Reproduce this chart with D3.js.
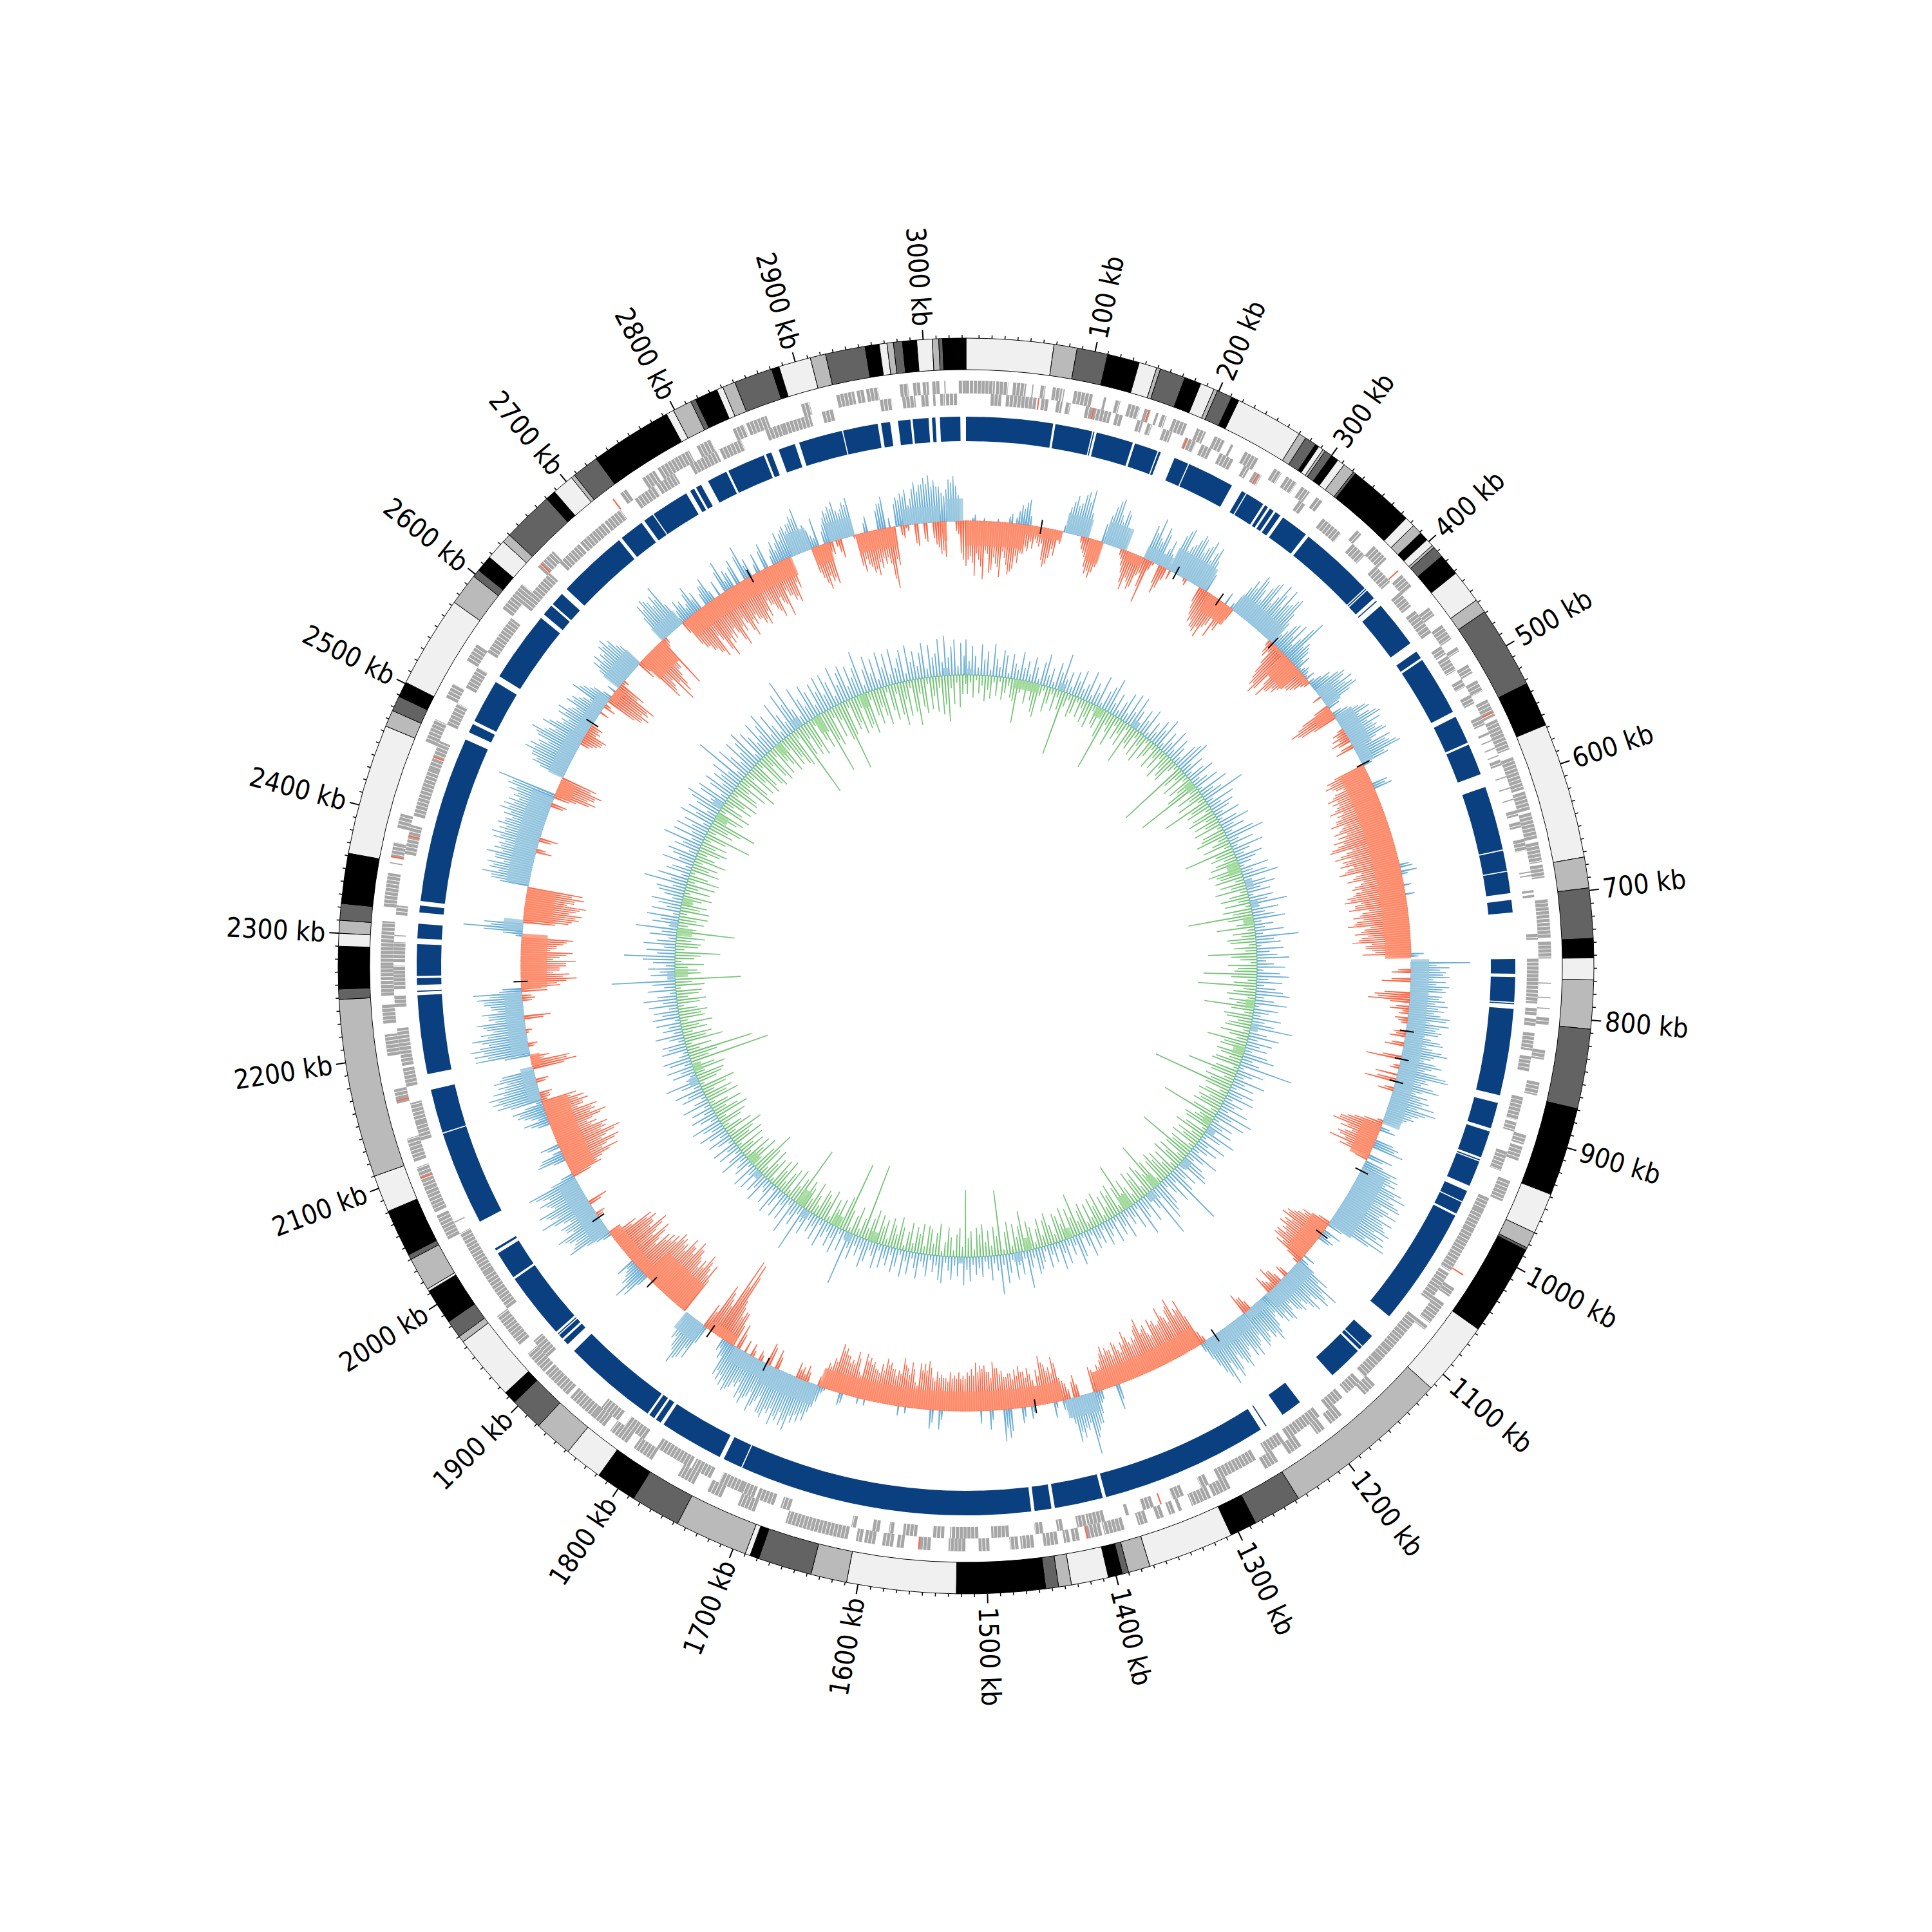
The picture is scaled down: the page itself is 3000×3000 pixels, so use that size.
<!DOCTYPE html>
<html><head><meta charset="utf-8">
<script src="https://cdn.jsdelivr.net/npm/d3@7/dist/d3.min.js"></script>
<style>html,body{margin:0;background:#fff}svg{display:block}</style></head>
<body><div id="c"></div>
<script>
const genomeKb = 3033;
const tickLabels = d3.range(100, 3001, 100);

// outer ring: band end position (kb) and tone
const bandEnds = [68,86,110,135,149,152,172,185,196,199,211,217,270,276,285,288,292,294,300,306,312,321,323,375,383,391,398,404,406,415,432,458,469,533,568,674,698,737,752,769,807,869,938,970,983,985,1056,1114,1247,1285,1306,1373,1390,1395,1406,1435,1445,1455,1524,1609,1637,1679,1686,1690,1747,1786,1818,1848,1878,1904,1914,1965,1970,1984,2012,2014,2040,2044,2081,2110,2249,2257,2290,2300,2310,2323,2362,2464,2477,2489,2501,2573,2598,2604,2617,2633,2640,2680,2688,2705,2708,2729,2793,2799,2814,2818,2836,2841,2851,2881,2887,2912,2924,2955,2966,2972,2977,2984,2995,3007,3012,3015,3027,3033];
const bandTones = "LMDKLMDKLMDKLMDKLMDKLMDKLMKLMDKLMDKLMDKLMDKLMDKLMDKLMDKLMDKLMDKLMDKLMDKLMDKLMDKLMDKLMDKLMDKLMDKLMDKLMDKLMDKLMDKLMDKLMDKLMDK".split("");

// solid blue blocks [start,end] kb
const blocks = [[0,77],[79,112],[113,114],[116,149],[151,172],[173,175],[188,201],[202,244],[254,258],[259,276],[278,281],[283,287],[289,294],[297,322],[325,392],[393,394],[395,404],[407,408],[413,455],[464,471],[473,526],[531,556],[558,586],[598,655],[656,674],[675,694],[700,711],[752,765],[768,790],[791,792],[796,873],[880,903],[906,930],[932,933],[934,957],[962,972],[973,984],[986,1092],[1115,1127],[1128,1131],[1133,1164],[1201,1220],[1237,1238],[1243,1392],[1395,1438],[1441,1456],[1459,1719],[1720,1737],[1741,1798],[1801,1806],[1808,1813],[1815,1900],[1908,1913],[1915,1919],[1920,1921],[1923,1982],[1984,2009],[2012,2014],[2041,2125],[2126,2165],[2179,2249],[2252,2253],[2258,2264],[2266,2294],[2299,2312],[2322,2328],[2332,2480],[2487,2495],[2498,2537],[2543,2606],[2610,2620],[2622,2634],[2640,2703],[2706,2728],[2731,2740],[2741,2775],[2779,2783],[2785,2790],[2797,2815],[2817,2851],[2853,2858],[2865,2880],[2884,2923],[2924,2955],[2958,2966],[2973,2984],[2986,3000],[3003,3006],[3010,3028]];

// gene clusters, forward lane
const genesFwd = [[0,24],[25,35],[39,50],[55,56],[62,66],[72,80],[81,82],[90,106],[115,117],[125,129],[136,146],[150,155],[160,162],[165,169],[175,187],[196,204],[212,221],[227,229],[240,253],[268,275],[280,290],[295,303],[310,316],[353,358],[372,387],[405,418],[440,448],[458,472],[480,484],[497,505],[512,522],[530,545],[548,575],[582,610],[612,628],[630,652],[655,672],[674,685],[703,735],[738,752],[772,773],[784,785],[793,794],[801,807],[828,836],[855,866],[900,908],[910,922],[940,958],[1040,1048],[1055,1075],[1078,1082],[1143,1155],[1180,1192],[1198,1206],[1222,1235],[1245,1258],[1290,1306],[1308,1325],[1334,1337],[1340,1345],[1350,1356],[1364,1372],[1384,1401],[1403,1416],[1422,1428],[1430,1435],[1440,1452],[1460,1471],[1473,1480],[1497,1506],[1517,1531],[1546,1556],[1568,1574],[1577,1586],[1592,1601],[1603,1608],[1615,1668],[1695,1710],[1725,1738],[1750,1765],[1790,1808],[1815,1832],[1838,1850],[1850,1875],[1878,1888],[1888,1904],[1905,1925],[1935,1965],[2040,2062],[2065,2085],[2085,2105],[2110,2130],[2160,2172],[2200,2218],[2227,2243],[2250,2275],[2275,2312],[2324,2352],[2360,2361],[2365,2378],[2390,2402],[2465,2485],[2505,2518],[2540,2556],[2592,2618],[2637,2655],[2728,2734],[2750,2762],[2765,2795],[2802,2815],[2835,2845],[2847,2865],[2895,2902],[2925,2940],[2942,2948],[2950,2960],[2978,2985],[2989,2995],[2997,3002],[3005,3011],[3015,3016],[3027,3033]];
// gene clusters, reverse lane
const genesRev = [[21,30],[34,60],[64,70],[77,82],[85,89],[102,124],[128,134],[147,152],[156,160],[170,178],[190,200],[205,214],[222,235],[245,250],[255,262],[300,306],[325,345],[358,372],[385,403],[415,430],[435,452],[452,458],[472,480],[482,496],[505,512],[520,528],[540,548],[555,557],[562,563],[569,570],[576,577],[580,585],[595,596],[605,606],[615,616],[625,630],[635,640],[650,660],[678,679],[681,682],[694,696],[698,700],[731,736],[752,790],[794,800],[803,809],[815,830],[835,848],[870,890],[892,900],[918,935],[960,972],[972,990],[990,1003],[1003,1030],[1032,1060],[1078,1095],[1095,1113],[1113,1125],[1125,1145],[1150,1165],[1170,1186],[1195,1215],[1215,1228],[1232,1250],[1260,1280],[1280,1296],[1305,1312],[1328,1338],[1355,1365],[1377,1380],[1398,1413],[1414,1422],[1434,1439],[1451,1458],[1480,1495],[1506,1530],[1535,1545],[1558,1570],[1578,1582],[1590,1596],[1610,1614],[1668,1676],[1682,1698],[1700,1712],[1712,1732],[1740,1758],[1760,1792],[1805,1825],[1832,1850],[1912,1930],[1965,2000],[2000,2040],[2050,2051],[2125,2142],[2140,2158],[2172,2188],[2190,2222],[2240,2250],[2255,2275],[2278,2295],[2300,2301],[2318,2326],[2370,2395],[2403,2445],[2445,2470],[2485,2505],[2520,2540],[2555,2590],[2605,2640],[2652,2675],[2676,2702],[2703,2720],[2735,2755],[2757,2775],[2790,2815],[2818,2838],[2860,2875],[2875,2900],[2910,2920],[2960,2970],[2979,2990],[2995,3001],[3005,3007],[3011,3015],[3016,3026]];
// genes drawn in orange: [kb, lane 0 fwd / 1 rev]
const genesRed = [[61,1],[108,1],[153,0],[191,1],[258,1],[400,0],[541,0],[1026,0],[1348,1],[1415,0],[1555,0],[2095,0],[2162,0],[2365,0],[2385,1],[2455,1],[2640,0],[2720,0]];

// skew plateaus [start,end,signed depth]
const skewBands = [[0,65,-38],[65,106,-15],[108,135,30],[137,152,-35],[152,178,35],[180,198,-15],[198,228,20],[228,274,38],[280,310,-30],[310,366,30],[366,384,-5],[384,410,-40],[410,425,-8],[437,458,25],[459,472,-30],[472,512,30],[512,531,20],[532,750,-40],[751,933,28],[935,975,-30],[985,1056,40],[1058,1104,-30],[1108,1160,28],[1166,1190,15],[1192,1243,25],[1248,1372,-30],[1375,1408,30],[1410,1679,-30],[1680,1740,32],[1740,1780,25],[1782,1815,-15],[1820,1845,30],[1848,1905,-50],[1905,1965,-20],[1966,2035,30],[2040,2125,-40],[2128,2165,20],[2165,2178,-15],[2180,2246,28],[2250,2310,-40],[2313,2325,30],[2325,2360,-45],[2363,2462,35],[2465,2483,-25],[2485,2535,25],[2535,2585,20],[2585,2600,-12],[2600,2637,30],[2638,2670,-40],[2670,2700,25],[2702,2838,-30],[2840,2862,35],[2862,2882,-28],[2883,2911,30],[2912,2955,-30],[2965,3005,25],[3007,3012,-30],[3012,3030,35]];
// skew peaks every 5 kb, 20 values per 100 kb
const skewOut = [
0,0,10,0,5,0,0,5,0,0,15,10,30,35,15,0,0,0,0,0,
0,0,40,60,50,70,75,0,0,0,30,60,75,40,55,25,0,0,0,0,
55,70,35,50,30,25,60,75,50,65,70,60,75,60,50,30,0,0,0,0,
20,0,25,60,75,55,65,80,60,70,85,65,80,40,30,50,55,35,75,40,
30,25,10,10,15,10,35,45,50,60,55,45,20,0,25,40,55,50,65,60,
50,55,40,60,55,70,45,0,0,0,0,25,30,0,0,0,0,0,0,0,
0,0,0,0,0,0,0,0,0,0,20,25,0,0,12,0,15,0,0,0,
0,0,0,0,0,0,0,0,0,20,0,92,60,55,60,55,60,55,50,55,
60,55,50,60,65,45,50,40,60,45,70,45,55,50,60,80,50,60,45,55,
60,70,75,50,45,30,20,0,25,0,0,40,50,0,40,0,55,60,60,75,
85,70,85,70,65,85,75,90,85,90,95,40,0,30,0,20,0,0,0,0,
20,15,60,85,70,60,75,55,60,50,45,55,55,30,50,70,60,55,65,50,
70,65,50,75,55,70,65,85,60,30,0,0,0,0,0,0,0,0,0,0,
0,0,0,0,0,0,0,0,0,0,40,0,0,0,20,50,60,95,55,65,
70,30,15,0,25,0,0,0,0,20,0,25,0,0,45,50,0,0,30,0,
20,0,0,0,0,0,0,0,0,30,0,30,0,0,0,0,0,0,15,0,
0,0,0,0,0,0,0,10,0,0,0,20,0,0,0,10,35,60,65,70,
85,80,75,85,70,80,75,60,80,60,75,70,55,60,70,65,60,55,30,20,
0,0,0,0,60,65,80,55,45,0,0,0,0,0,0,0,0,0,0,0,
0,45,55,35,20,30,0,0,0,0,0,0,0,25,70,55,60,75,55,60,
50,84,65,80,55,70,60,80,20,0,0,0,45,35,0,30,0,0,0,0,
20,40,25,45,50,10,70,75,80,70,60,65,50,0,0,0,85,85,90,60,
85,70,60,75,55,65,50,60,70,76,30,0,0,0,0,0,0,0,0,0,
0,0,30,92,60,0,0,0,0,0,0,0,0,60,75,65,70,60,75,65,
60,70,75,65,70,60,65,75,70,65,60,70,75,94,0,0,0,0,55,60,
75,70,60,65,80,55,70,50,45,55,60,40,55,50,35,60,45,30,0,15,
0,55,60,55,65,70,60,40,0,0,0,0,0,0,0,65,70,60,65,76,
10,35,30,20,45,30,0,30,40,0,25,0,50,30,0,40,0,55,30,0,
30,0,40,0,25,20,45,40,50,50,60,70,40,20,45,0,30,50,55,60,
40,55,60,0,0,25,0,0,40,50,15,0,45,50,55,40,65,60,70,73,
65,55,40,65,70,40,0];
const skewIn = [
70,55,85,60,90,50,75,65,85,55,80,70,60,45,40,35,25,25,60,45,
40,20,0,0,0,0,20,30,55,60,40,0,0,0,0,15,35,60,45,50,
25,70,5,0,45,20,15,0,0,0,10,0,0,0,35,55,60,65,70,45,
60,45,20,0,0,0,0,0,0,0,0,0,0,20,15,50,70,80,40,75,
60,55,40,35,25,10,0,0,0,15,0,0,50,75,60,0,0,0,20,25,
30,0,30,0,0,0,0,65,70,55,60,75,70,65,80,70,75,85,70,85,
80,90,85,100,75,95,85,90,80,95,70,85,65,80,75,90,95,80,90,70,
85,80,95,70,85,75,90,70,60,75,0,0,0,30,0,45,0,0,55,65,
0,30,15,20,10,0,20,25,0,30,0,0,55,0,15,0,0,50,0,25,
0,0,0,0,0,0,10,45,65,75,60,50,55,70,50,20,0,0,0,0,
0,0,0,0,0,0,0,0,0,0,0,20,45,50,65,70,60,65,55,60,
60,50,10,0,0,0,20,0,25,35,15,30,0,0,0,0,0,25,35,0,
0,0,0,0,0,0,0,0,0,20,80,70,90,75,65,85,60,70,75,55,
65,85,70,60,55,75,60,50,65,55,60,65,45,40,30,40,0,0,0,35,
0,25,35,70,55,60,75,55,40,60,55,65,60,55,50,60,65,75,60,70,
70,75,65,60,55,60,55,60,50,55,60,50,75,70,70,40,70,60,75,55,
55,65,70,60,50,60,65,70,40,70,55,60,70,75,50,40,15,0,0,25,
20,25,0,0,0,0,30,0,35,0,15,0,20,0,0,25,0,55,45,70,
130,134,60,80,40,0,0,0,0,0,85,75,95,80,75,90,100,85,95,80,
85,90,80,75,70,55,80,60,85,65,75,70,45,20,0,0,0,0,15,0,
0,32,0,0,0,0,0,0,50,55,85,70,93,75,100,80,85,70,65,90,
75,80,60,70,65,55,15,20,0,0,20,0,0,70,60,30,0,0,15,0,
0,10,0,0,42,0,0,0,20,0,30,55,86,75,60,70,85,60,80,55,
65,80,0,0,0,70,86,90,80,95,75,90,86,0,0,0,0,0,0,0,
25,0,0,30,0,0,0,0,0,0,0,25,0,35,65,60,70,58,0,0,
0,0,0,0,0,0,20,30,35,20,20,0,0,0,0,20,0,60,70,64,
70,45,10,0,0,0,0,30,80,65,97,85,60,50,86,10,0,0,0,0,
20,55,65,75,85,60,93,75,70,65,90,70,60,85,70,65,75,80,70,55,
65,80,60,85,55,65,70,50,0,0,0,0,0,50,70,60,65,20,10,30,
0,0,5,60,50,65,70,60,55,55,95,60,0,20,10,0,35,0,30,0,
35,50,55,0,0,20,60];
// secondary skew peaks, between the ones above
const skewOutB = [
0,5,0,0,0,0,0,0,0,10,0,20,25,40,0,0,0,0,0,0,
0,10,50,45,65,55,40,0,0,0,45,70,50,60,35,0,0,0,0,0,
45,40,60,20,45,10,70,40,55,75,50,65,45,70,30,0,0,0,0,0,
0,10,45,50,70,40,75,45,85,50,60,75,55,20,45,30,20,60,30,35,
15,5,15,5,0,20,30,55,40,45,60,25,0,15,30,50,35,60,40,45,
45,60,30,50,65,40,15,0,0,0,0,20,0,0,0,0,0,0,0,0,
0,0,0,0,0,0,0,0,0,15,0,10,0,0,0,0,0,0,0,0,
0,0,0,0,0,0,0,0,0,12,0,40,45,50,35,40,50,30,45,40,
45,40,65,35,50,55,30,55,35,60,50,35,65,40,75,45,40,70,35,45,
50,45,60,40,35,25,0,15,0,0,30,35,0,0,25,30,45,50,45,65,
60,80,55,85,60,70,80,65,75,60,70,25,0,15,25,0,0,0,0,0,
0,30,45,60,80,50,65,45,55,35,60,40,45,35,60,55,45,60,40,55,
55,45,60,65,45,80,50,70,45,15,0,0,0,0,0,0,0,0,0,0,
0,0,0,0,0,0,0,0,0,25,0,0,0,15,35,50,70,45,50,55,
40,20,0,10,0,0,0,0,10,0,15,0,0,35,30,0,0,15,0,0,
0,0,0,0,0,0,0,0,15,0,20,0,0,0,0,0,10,0,0,0,
0,0,0,0,0,10,0,0,0,0,15,0,0,0,5,25,45,50,55,60,
70,60,70,60,65,75,50,70,50,65,60,45,50,65,55,50,45,25,15,0,
0,0,0,30,45,70,60,40,15,0,0,0,0,0,0,0,0,0,0,0,
20,35,30,25,15,0,0,0,0,0,0,0,15,40,60,50,65,45,55,40,
65,55,70,50,60,50,70,40,0,0,0,20,40,15,20,0,0,0,0,0,
30,15,35,40,30,50,60,65,55,50,45,55,0,0,0,40,65,70,75,70,
60,50,65,45,55,40,50,60,50,35,0,0,0,0,0,0,0,0,0,0,
0,10,60,50,0,0,0,0,0,0,0,0,45,60,50,60,45,60,50,55,
50,60,55,55,60,50,55,60,55,50,55,60,70,0,0,0,0,40,50,60,
60,55,45,70,60,45,60,40,35,45,45,35,45,40,25,50,35,15,0,0,
40,45,45,50,60,55,45,0,0,0,0,0,0,0,45,55,65,50,55,40,
20,25,15,35,20,0,20,30,15,0,0,35,15,25,30,0,40,20,0,15,
0,30,0,15,35,30,30,45,40,50,55,30,30,15,0,20,40,45,50,45,
45,50,0,0,15,0,0,30,40,0,0,35,40,45,30,55,50,60,60,55,
55,45,50,60,55,0,0];
const skewInB = [
60,65,50,70,45,80,55,70,45,65,75,50,45,35,25,20,30,50,55,30,
15,0,0,0,0,10,25,45,50,50,0,0,0,0,10,25,50,40,55,30,
45,15,0,30,35,0,0,0,0,5,0,0,0,25,45,50,60,55,50,30,
40,30,0,0,0,0,0,0,0,0,0,0,10,25,35,60,65,70,55,60,
50,45,35,30,15,0,0,0,0,0,0,25,60,65,40,0,0,10,15,15,
20,20,0,0,0,0,50,60,60,45,65,60,60,70,60,65,75,65,75,65,
70,75,95,65,85,70,80,70,85,60,75,60,75,65,80,85,70,80,60,75,
70,85,60,75,65,80,60,70,55,30,0,0,20,0,30,0,0,40,50,30,
20,10,0,15,0,0,15,0,20,0,0,30,0,10,0,35,30,0,15,0,
0,0,0,0,0,0,30,55,65,50,40,60,45,40,10,0,0,0,0,0,
0,0,0,0,0,0,0,0,0,0,0,30,40,55,60,50,55,50,45,55,
40,25,0,0,0,15,0,15,25,10,20,0,0,0,0,0,15,25,0,0,
0,0,0,0,0,0,0,0,10,50,65,60,80,55,70,65,60,65,50,70,
60,75,55,50,65,55,45,60,45,55,50,55,35,30,35,0,0,0,20,25,
15,30,60,45,50,65,45,30,50,45,55,50,45,55,50,55,65,50,60,65,
60,55,55,50,50,50,50,45,50,50,45,65,60,60,35,60,50,65,50,45,
55,60,50,45,50,55,60,35,60,50,50,60,65,45,35,10,0,0,15,10,
15,0,0,0,0,20,0,30,0,10,0,10,0,20,0,40,35,55,60,110,
90,50,70,30,0,0,0,0,0,60,65,85,70,65,80,90,75,85,70,75,
80,70,65,60,45,70,50,75,55,65,60,35,15,0,0,0,0,10,0,0,
20,0,0,0,0,0,0,30,45,70,60,85,65,90,70,75,60,55,80,65,
70,50,60,55,45,10,15,0,0,15,0,0,50,55,20,0,0,10,0,0,
5,0,0,30,0,0,0,15,15,40,60,70,65,50,60,70,50,70,45,55,
70,0,0,0,50,75,80,70,85,65,75,70,0,0,0,0,0,0,0,0,
15,0,20,0,0,0,0,0,0,0,20,0,25,55,50,60,50,0,0,0,
0,0,0,0,0,15,25,30,15,15,0,0,0,15,0,10,50,60,55,60,
35,5,0,0,0,0,0,20,70,55,65,75,50,40,15,0,0,0,0,0,
45,55,65,75,50,80,65,60,55,80,60,50,75,60,55,65,70,60,45,55,
70,50,65,45,55,60,40,0,0,0,0,0,40,60,50,55,15,0,20,0,
0,0,50,40,55,60,50,45,45,80,50,0,15,5,0,30,0,25,0,25,
40,45,0,0,15,50,40];
// short black marks in the skew track
const skewMarks = [82,237,292,367,531,829,860,885,989,1070,1230,1441,1741,1811,1894,1985,2258,2553,2789];

// GC plateaus [start,end,signed depth]
const gcBands = [[0,12,10],[80,125,-14],[155,165,12],[225,240,-16],[290,300,12],[425,440,-14],[580,600,-20],[615,628,12],[650,662,12],[675,690,-16],[815,830,-14],[853,866,12],[895,910,-18],[1028,1040,-14],[1040,1050,14],[1105,1120,14],[1165,1178,-22],[1182,1195,14],[1222,1238,-22],[1335,1346,-16],[1405,1418,-20],[1425,1438,14],[1520,1530,10],[1668,1682,-16],[1708,1720,14],[1735,1750,-18],[1788,1800,14],[1803,1818,-26],[1890,1902,12],[1912,1926,-16],[2075,2088,14],[2095,2108,-14],[2252,2265,12],[2256,2270,-20],[2325,2338,-24],[2338,2348,12],[2378,2390,-16],[2530,2542,-20],[2548,2560,16],[2686,2698,-20],[2732,2745,16],[2765,2778,-28],[2850,2862,-22],[2996,3004,12]];
// GC peaks every 5 kb, 20 values per 100 kb
const gcOut = [
55,22,45,30,12,48,25,38,10,50,28,15,42,35,8,38,24,15,44,20,
32,12,40,25,8,36,50,18,30,10,42,28,59,20,34,12,38,24,44,16,
26,48,12,34,20,50,8,30,40,56,18,36,10,28,45,14,50,22,50,30,
12,38,22,45,8,30,16,40,28,50,10,34,20,45,14,38,26,12,40,48,
55,18,36,10,30,44,14,25,40,8,50,22,34,69,12,45,20,38,28,14,
40,8,30,48,20,35,12,45,60,16,38,10,50,26,14,42,30,20,8,45,
18,40,56,12,32,46,22,36,8,38,28,58,14,42,20,34,50,12,30,16,
45,12,67,28,38,8,42,20,32,50,14,26,44,10,36,50,18,40,12,30,
42,53,14,30,50,8,38,24,12,45,20,36,66,10,28,48,16,40,22,34,
12,38,50,18,30,85,8,42,26,14,50,20,36,10,40,24,45,12,32,20,
45,14,58,26,50,10,36,22,40,12,52,30,8,46,18,38,24,12,50,28,
14,34,45,50,10,38,22,42,95,16,48,28,12,40,50,60,18,81,30,14,
45,20,32,58,10,40,18,28,12,44,22,34,8,40,16,26,38,10,30,20,
34,10,42,24,8,36,48,14,28,12,38,20,44,10,30,16,36,8,24,34,
40,14,28,59,12,36,20,42,10,30,45,16,61,24,12,38,20,8,32,18,
28,12,38,20,44,8,30,14,36,22,10,42,38,16,26,8,34,20,12,40,
24,10,36,16,42,8,28,38,12,30,20,36,10,40,22,14,34,45,18,30,
16,40,24,85,12,34,8,42,20,36,14,26,44,10,38,18,30,12,40,22,
74,14,36,22,56,10,40,18,42,12,30,45,8,36,20,14,44,24,34,10,
38,16,42,8,30,22,12,44,26,10,36,18,40,8,24,38,14,30,44,20,
32,48,12,28,40,16,34,10,44,22,8,38,26,45,12,30,54,18,10,36,
22,42,12,34,43,16,8,40,28,36,10,24,44,14,30,20,38,8,42,26,
38,14,45,22,52,30,10,44,18,36,99,12,38,24,42,14,34,50,79,28,
45,18,50,30,12,42,24,64,14,40,28,50,10,44,22,36,48,16,30,40,
45,20,67,26,48,12,38,30,10,50,24,36,46,14,40,28,62,18,50,22,
50,26,42,12,55,30,46,16,38,50,60,22,44,50,12,36,48,20,40,30,
50,24,85,14,55,36,20,55,30,46,60,12,50,38,22,55,28,44,60,18,
50,28,12,60,36,20,65,44,83,30,14,60,38,22,55,42,16,50,34,55,
24,55,40,14,60,28,46,55,20,50,30,44,68,12,36,55,26,48,14,55,
30,50,16,55,24,38,50,12,55,28,44,20,40,55,14,50,30,36,58,22,
62,28,45,55,14,50,30];
const gcIn = [
30,12,35,8,28,16,40,22,35,10,30,8,35,24,12,30,35,68,20,10,
35,14,28,45,52,18,8,40,26,10,35,12,30,102,22,10,35,28,8,30,
14,35,24,40,10,30,35,12,45,97,20,30,50,14,35,22,40,10,64,28,
35,12,40,20,45,8,35,26,10,40,18,35,12,45,24,35,40,16,8,113,
35,18,45,10,40,28,50,104,14,40,22,45,12,75,30,40,10,35,45,18,
40,24,45,8,35,40,50,16,28,45,12,79,30,40,20,35,45,10,52,40,
35,45,14,40,24,50,12,30,45,18,40,8,45,30,101,40,16,28,59,12,
35,22,45,40,12,35,18,76,40,26,10,45,30,35,83,40,14,35,91,20,
35,45,12,40,28,78,35,14,45,40,22,35,40,10,45,30,18,63,35,40,
12,43,35,20,40,45,8,35,79,40,16,45,35,127,40,14,35,45,24,40,
35,45,12,40,90,24,30,45,40,8,35,50,18,40,28,45,10,40,35,90,
40,14,45,30,50,12,40,22,45,35,50,40,10,45,79,28,40,50,16,45,
35,50,14,30,45,24,76,40,12,50,35,45,20,40,10,50,30,45,16,40,
12,45,35,20,66,30,45,8,50,26,40,45,14,30,50,40,18,45,30,10,
35,45,14,63,40,24,45,12,50,35,8,101,30,45,16,40,22,50,35,45,
12,40,30,104,16,45,35,10,30,45,22,8,50,35,18,40,45,12,46,30,
40,14,45,30,8,35,50,22,35,45,12,40,28,45,10,50,35,18,120,30,
12,45,30,8,35,111,53,14,45,26,40,10,50,30,40,45,16,30,50,20,
35,45,12,96,40,24,50,10,45,35,16,50,30,45,8,40,28,50,14,45,
71,40,18,50,30,45,12,40,24,45,8,50,30,40,58,14,45,30,10,35,
45,14,54,40,22,50,30,10,52,35,45,18,40,55,8,30,40,45,16,50,
35,14,126,30,45,103,20,40,10,60,35,45,16,40,28,50,12,40,35,45,
30,10,35,45,18,35,40,8,45,26,102,12,40,35,20,45,10,30,40,70,
14,35,40,24,45,8,90,30,16,40,28,45,12,46,30,40,18,30,45,10,
40,20,45,12,50,30,8,45,28,40,14,50,30,16,35,45,24,41,12,35,
74,14,40,30,50,72,20,35,45,10,50,35,16,45,30,50,12,45,40,22,
50,18,62,45,14,50,30,55,45,12,50,56,20,45,55,14,50,30,40,55,
20,50,40,55,60,14,117,50,24,55,45,60,12,40,55,30,101,50,60,16,
50,24,60,110,55,12,50,40,60,20,55,50,66,14,40,55,30,45,60,10,
40,56,16,50,68,28,55,12,50,72,24,45,55,10,50,30,55,18,60,45,
72,20,45,12,50,30,14];

const colors = {L:"#f0f0f0",M:"#bababa",D:"#636363",K:"#000000",
  block:"#0a3f80",gene:"#a6a6a6",red:"#fb6a4a",
  skewUp:"#6baed6",skewUpFill:"#9ecae1",skewDn:"#fb6a4a",skewDnFill:"#fc9272",
  gcDn:"#74c476",gcDnFill:"#a1d99b"};

const size = 3000, cx = 1500, cy = 1500;
const angle = d3.scaleLinear().domain([0,genomeKb]).range([0,2*Math.PI]);
const deg = a => a*180/Math.PI;
const ringR=[926,975], laneF=[889,909], laneR=[871,889], blockR=[815,853];
const skewR = d3.scaleLinear().domain([-150,150]).range([541,841]);
const gcR = d3.scaleLinear().domain([-150,150]).range([302,602]);
const step = 5;

const svg = d3.select("#c").append("svg").attr("width",size).attr("height",size);
const g = svg.append("g").attr("transform",`translate(${cx},${cy})`);
const arc = d3.arc();
const sector = (s,e,r0,r1)=>arc({startAngle:angle(s),endAngle:angle(e),innerRadius:r0,outerRadius:r1});
const radial = d3.lineRadial().angle(d=>angle(d[0])).radius(d=>d[1]);

function peaks(layer,vals,scale,color,offset,half,sw){
  layer.selectAll(null).data(vals.map((v,i)=>[i*step+offset,v]).filter(d=>d[1]!==0)).join("path")
   .attr("d",d=>radial([[d[0]-half,scale(0)],[d[0],scale(d[1])],[d[0]+half,scale(0)]])+"Z")
   .attr("fill",color).attr("stroke",color).attr("stroke-width",sw).attr("stroke-linejoin","miter");
}
// GC
const gcL=g.append("g");
peaks(gcL,gcOut,gcR,colors.skewUp,0,0.5,1.5);
gcL.selectAll(null).data(gcBands.filter(b=>b[2]>0)).join("path")
  .attr("d",b=>sector(b[0],b[1],gcR(0),gcR(b[2]))).attr("fill",colors.skewUpFill).attr("fill-opacity",.85);
peaks(gcL,gcIn.map(v=>-v),gcR,colors.gcDn,2.5,0.5,1.5);
gcL.selectAll(null).data(gcBands.filter(b=>b[2]<0)).join("path")
  .attr("d",b=>sector(b[0],b[1],gcR(b[2]),gcR(0))).attr("fill",colors.gcDnFill).attr("fill-opacity",.85);

// skew
const skL=g.append("g");
peaks(skL,skewOut,skewR,colors.skewUp,0,0.6,1.4);
peaks(skL,skewOutB,skewR,colors.skewUp,2.5,0.6,1.4);
peaks(skL,skewIn.map(v=>-v),skewR,colors.skewDn,0,0.6,1.4);
peaks(skL,skewInB.map(v=>-v),skewR,colors.skewDn,2.5,0.6,1.4);
skL.selectAll(null).data(skewBands).join("path")
  .attr("d",b=>b[2]>0?sector(b[0],b[1],skewR(0),skewR(b[2])):sector(b[0],b[1],skewR(b[2]),skewR(0)))
  .attr("fill",b=>b[2]>0?colors.skewUpFill:colors.skewDnFill).attr("fill-opacity",.85);
skL.selectAll(null).data(skewMarks).join("path")
  .attr("d",k=>radial([[k,skewR(-10)],[k,skewR(12)]])).attr("stroke","#000").attr("stroke-width",2).attr("fill","none");

// blocks
g.append("g").selectAll("path").data(blocks).join("path")
  .attr("d",b=>sector(b[0],b[1],blockR[0],blockR[1])).attr("fill",colors.block);

// genes: striped stroke along each lane
const gl=g.append("g").attr("fill","none");
const laneStroke=(data,r)=>gl.selectAll(null).data(data).join("path")
  .attr("d",b=>radial(d3.range(b[0],b[1]+0.01,0.5).map(k=>[k,(r[0]+r[1])/2])))
  .attr("stroke",colors.gene).attr("stroke-width",r[1]-r[0]).attr("stroke-dasharray","5 1");
laneStroke(genesFwd,laneF);
laneStroke(genesRev,laneR);
g.append("g").selectAll("path").data(genesRed).join("path").attr("d",b=>{const r=b[1]?laneR:laneF;return sector(b[0],b[0]+1.2,r[0],r[1]);}).attr("fill",colors.red);

// outer ring
g.append("g").selectAll("path").data(bandEnds.map((e,i)=>({s:i?bandEnds[i-1]:0,e,t:bandTones[i]}))).join("path")
  .attr("d",d=>sector(d.s,d.e,ringR[0],ringR[1])).attr("fill",d=>colors[d.t]).attr("stroke","#000").attr("stroke-width",1);

// ticks
const tk=g.append("g").attr("stroke","#000");
const tickLine=(k,len,w)=>tk.append("path").attr("d",radial([[k,ringR[1]],[k,ringR[1]+len]])).attr("stroke-width",w).attr("fill","none");
d3.range(10,genomeKb,10).forEach(k=>{ if(k%100) tickLine(k,5,1.5); });
tickLabels.forEach(k=>tickLine(k,15,2));

// labels
g.append("g").selectAll("text").data(tickLabels).join("text")
  .attr("transform",k=>{const a=deg(angle(k));return `rotate(${a}) translate(0,${-(ringR[1]+21)}) rotate(${a<=180?-90:90})`;})
  .attr("text-anchor",k=>deg(angle(k))<=180?"start":"end")
  .attr("dominant-baseline","central")
  .attr("font-family","'DejaVu Sans Condensed','DejaVu Sans',sans-serif")
  .attr("font-stretch","condensed")
  .attr("font-size",42).attr("fill","#000")
  .text(k=>`${k} kb`);
</script></body></html>
